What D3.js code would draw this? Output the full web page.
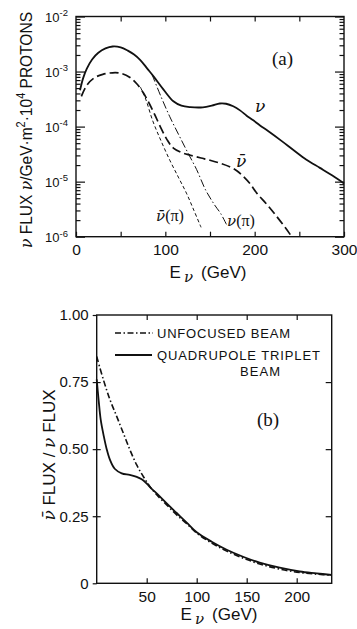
<!DOCTYPE html>
<html>
<head>
<meta charset="utf-8">
<script src="https://cdn.jsdelivr.net/npm/d3@7"></script>
<style>
  body { margin: 0; background: #fff; }
  svg { display: block; }
  .tick line { stroke: #111; stroke-width: 1.2; }
  .domain { display: none; }
  .frame { fill: none; stroke: #111; stroke-width: 1.4; }
  .curve { fill: none; stroke: #111; }
  .sans { font-family: "Liberation Sans", Arial, sans-serif; fill: #111; }
  .serif { font-family: "Liberation Serif", "DejaVu Serif", serif; fill: #111; }
  .greek { font-family: "DejaVu Serif", serif; font-style: italic; fill: #111; }
</style>
</head>
<body>
<div id="chart"></div>
<script>
"use strict";

// (a) flux per GeV, m^2, 10^4 protons
let nuE = [4.5, 8, 12, 18, 25, 33, 41, 50, 58, 65, 72, 80, 87, 98, 109, 118, 128, 142,
  152, 161, 168, 176, 184, 191, 198, 206, 215, 230, 243, 258, 273, 287, 300];
let nuFlux = [4.57e-4, 7.6e-4, 1.12e-3, 1.66e-3, 2.19e-3, 2.63e-3, 2.85e-3, 2.75e-3, 2.4e-3,
  2.04e-3, 1.62e-3, 1.12e-3, 8.1e-4, 4.7e-4, 2.88e-4, 2.4e-4, 2.26e-4, 2.24e-4, 2.4e-4,
  2.63e-4, 2.6e-4, 2.34e-4, 1.95e-4, 1.58e-4, 1.32e-4, 1.05e-4, 8.3e-5, 5.5e-5, 3.8e-5,
  2.5e-5, 1.78e-5, 1.29e-5, 9.3e-6];

let nubarE = [6, 12, 20, 30, 41, 50, 60, 68, 75, 82, 88, 95, 102, 109, 118, 128, 140, 150,
  162, 172, 180, 187, 195, 202, 214, 225, 234, 241.5];
let nubarFlux = [3.55e-4, 5.6e-4, 7.6e-4, 8.9e-4, 9.5e-4, 9.3e-4, 7.9e-4, 6.0e-4, 4.2e-4,
  2.63e-4, 1.66e-4, 9.5e-5, 5.75e-5, 4.07e-5, 3.39e-5, 3.02e-5, 2.69e-5, 2.45e-5, 2.14e-5,
  1.86e-5, 1.58e-5, 1.26e-5, 9.1e-6, 6.3e-6, 3.8e-6, 2.29e-6, 1.48e-6, 1.0e-6];

let nubarPiE = [72, 78, 86, 95, 105, 115, 124, 132, 140];
let nubarPiFlux = [5.25e-4, 3.16e-4, 1.26e-4, 5.6e-5, 2.45e-5, 1.17e-5, 6.0e-6, 3.0e-6, 1.48e-6];

let nuPiE = [85, 95, 105, 115, 125, 135, 145, 155, 162, 168.5];
let nuPiFlux = [8.9e-4, 3.55e-4, 1.51e-4, 7.1e-5, 3.39e-5, 1.66e-5, 7.1e-6, 3.8e-6, 2.63e-6, 1.66e-6];

let decades = [1e-6, 1e-5, 1e-4, 1e-3, 1e-2];
let decadeLabels = ['-6', '-5', '-4', '-3', '-2'];
let topXTicks = [0, 50, 100, 150, 200, 250, 300];
let topXLabels = [0, 100, 200, 300];

// (b) antineutrino / neutrino flux ratio
let unfocE = [0, 6.6, 13.3, 20, 26.6, 33.3, 40, 46.6, 53.3, 60, 70, 80, 90, 100, 115, 130,
  147, 163, 183, 203, 220, 235];
let unfocRatio = [0.845, 0.76, 0.684, 0.622, 0.56, 0.497, 0.441, 0.398, 0.36, 0.33, 0.292,
  0.255, 0.222, 0.187, 0.150, 0.120, 0.093, 0.072, 0.053, 0.040, 0.034, 0.030];

let quadE = [0, 2, 4, 7, 10, 13.3, 18, 25, 33, 40, 45, 50, 55, 60, 70, 80, 90, 100, 115, 130,
  147, 163, 183, 203, 220, 235];
let quadRatio = [0.76, 0.68, 0.61, 0.55, 0.50, 0.46, 0.427, 0.41, 0.404, 0.397, 0.388, 0.372,
  0.352, 0.335, 0.298, 0.262, 0.226, 0.19, 0.155, 0.125, 0.098, 0.077, 0.058, 0.044, 0.037, 0.031];

let ratioTicks = [0, 0.25, 0.5, 0.75, 1];
let botXTicks = [50, 100, 150, 200];

let width = 357;
let height = 629;

let svg = d3.select('#chart')
  .append('svg')
  .attr('width', width)
  .attr('height', height);

// ---------- panel (a) ----------
let x = d3.scaleLinear().domain([0, 300]).range([76, 344]);
let y = d3.scaleLog().domain([1e-6, 1e-2]).range([236.7, 16.5]);

let minors = [];
decades.slice(0, -1).forEach(d => {
  for (let k = 2; k <= 9; k++) minors.push(d * k);
});

svg.append('g')
  .attr('transform', 'translate(0,' + y(1e-6) + ')')
  .call(d3.axisBottom(x).tickValues(topXTicks).tickSize(-5).tickPadding(7)
    .tickFormat(d => topXLabels.includes(d) ? d : ''))
  .call(g => g.selectAll('text').attr('class', 'sans').style('font-size', '15.5px'));

svg.append('g')
  .attr('transform', 'translate(0,' + y(1e-2) + ')')
  .call(d3.axisTop(x).tickValues(topXTicks.slice(1, -1)).tickSize(-5).tickFormat(''));

svg.append('g')
  .attr('transform', 'translate(' + x(0) + ',0)')
  .call(d3.axisLeft(y).tickValues(decades).tickSize(-9).tickFormat(''))
  .call(g => g.selectAll('.tick').each(function(d, i) {
    let t = d3.select(this).append('text')
      .attr('class', 'sans')
      .attr('x', -8)
      .attr('dy', '0.35em')
      .attr('text-anchor', 'end')
      .style('font-size', '13px');
    t.append('tspan').text('10');
    t.append('tspan').attr('dy', '-0.55em').style('font-size', '9.5px').text(decadeLabels[i]);
  }));

svg.append('g')
  .attr('transform', 'translate(' + x(0) + ',0)')
  .call(d3.axisLeft(y).tickValues(minors).tickSize(-4.5).tickFormat(''));

svg.append('g')
  .attr('transform', 'translate(' + x(300) + ',0)')
  .call(d3.axisRight(y).tickValues(decades).tickSize(-9).tickFormat(''));

svg.append('g')
  .attr('transform', 'translate(' + x(300) + ',0)')
  .call(d3.axisRight(y).tickValues(minors).tickSize(-4.5).tickFormat(''));

svg.append('rect')
  .attr('class', 'frame')
  .attr('x', x(0))
  .attr('y', y(1e-2))
  .attr('width', x(300) - x(0))
  .attr('height', y(1e-6) - y(1e-2));

let lineA = d3.line()
  .x(d => x(d[0]))
  .y(d => y(d[1]))
  .curve(d3.curveCatmullRom.alpha(0.5));

svg.append('path').datum(d3.zip(nuE, nuFlux)).attr('class', 'curve')
  .attr('stroke-width', 1.8).attr('d', lineA);
svg.append('path').datum(d3.zip(nubarE, nubarFlux)).attr('class', 'curve')
  .attr('stroke-width', 1.7).attr('stroke-dasharray', '9,4').attr('d', lineA);
svg.append('path').datum(d3.zip(nubarPiE, nubarPiFlux)).attr('class', 'curve')
  .attr('stroke-width', 1).attr('stroke-dasharray', '3.5,2.5').attr('d', lineA);
svg.append('path').datum(d3.zip(nuPiE, nuPiFlux)).attr('class', 'curve')
  .attr('stroke-width', 1).attr('stroke-dasharray', '8,2.5,1.5,2.5').attr('d', lineA);

// curve labels
let nuLabel = (px, py, size, bar) => {
  let t = svg.append('text').attr('class', 'greek')
    .attr('x', px).attr('y', py)
    .style('font-size', size + 'px');
  t.text(bar ? '\u03BD\u0304' : '\u03BD');
  return t;
};
nuLabel(255, 112, 17, false);
nuLabel(236, 167, 17, true);
nuLabel(156, 221, 15, true).append('tspan').attr('class', 'serif').style('font-style', 'normal')
  .style('font-size', '16px').text('(\u03C0)');
nuLabel(227, 226, 15, false).append('tspan').attr('class', 'serif').style('font-style', 'normal')
  .style('font-size', '16px').text('(\u03C0)');

svg.append('text').attr('class', 'serif')
  .attr('x', 272).attr('y', 65)
  .style('font-size', '19px')
  .text('(a)');

// axis titles
let ylabA = svg.append('text').attr('class', 'sans')
  .attr('transform', 'translate(32,130) rotate(-90)')
  .attr('text-anchor', 'middle')
  .attr('textLength', 236)
  .attr('lengthAdjust', 'spacingAndGlyphs')
  .style('font-size', '17px');
ylabA.append('tspan').attr('class', 'greek').text('\u03BD');
ylabA.append('tspan').text(' FLUX  ');
ylabA.append('tspan').attr('class', 'greek').text('\u03BD');
ylabA.append('tspan').text('/GeV\u00B7m');
ylabA.append('tspan').attr('dy', -7).style('font-size', '12px').text('2');
ylabA.append('tspan').attr('dy', 7).text('\u00B710');
ylabA.append('tspan').attr('dy', -7).style('font-size', '12px').text('4');
ylabA.append('tspan').attr('dy', 7).text(' PROTONS');

let xlab = (cx, by) => {
  let t = svg.append('text').attr('class', 'sans')
    .attr('x', cx).attr('y', by)
    .attr('text-anchor', 'middle')
    .style('font-size', '17px');
  t.append('tspan').text('E');
  t.append('tspan').attr('class', 'greek').attr('dy', 4).attr('dx', 3)
    .style('font-size', '15px').text('\u03BD');
  t.append('tspan').attr('dy', -4).attr('dx', 8).text('(GeV)');
};
xlab(208, 278);

// ---------- panel (b) ----------
let x2 = d3.scaleLinear().domain([0, 235]).range([96.7, 331.7]);
let y2 = d3.scaleLinear().domain([0, 1]).range([583.3, 315]);

svg.append('g')
  .attr('transform', 'translate(0,' + y2(0) + ')')
  .call(d3.axisBottom(x2).tickValues(botXTicks).tickSize(-5).tickPadding(8))
  .call(g => g.selectAll('text').attr('class', 'sans').style('font-size', '15.5px'));

svg.append('g')
  .attr('transform', 'translate(0,' + y2(1) + ')')
  .call(d3.axisTop(x2).tickValues(botXTicks).tickSize(-5).tickFormat(''));

svg.append('g')
  .attr('transform', 'translate(' + x2(0) + ',0)')
  .call(d3.axisLeft(y2).tickValues(ratioTicks).tickSize(4).tickPadding(4)
    .tickFormat(d => d === 0 ? '0' : d3.format('.2f')(d)))
  .call(g => g.selectAll('text').attr('class', 'sans').style('font-size', '15px'));

svg.append('g')
  .attr('transform', 'translate(' + x2(0) + ',0)')
  .call(d3.axisLeft(y2).tickValues(ratioTicks.slice(1, -1)).tickSize(-4).tickFormat(''));

svg.append('g')
  .attr('transform', 'translate(' + x2(235) + ',0)')
  .call(d3.axisRight(y2).tickValues(ratioTicks.slice(1, -1)).tickSize(-6).tickFormat(''));

svg.append('rect')
  .attr('class', 'frame')
  .attr('x', x2(0))
  .attr('y', y2(1))
  .attr('width', x2(235) - x2(0))
  .attr('height', y2(0) - y2(1));

let lineB = d3.line()
  .x(d => x2(d[0]))
  .y(d => y2(d[1]))
  .curve(d3.curveCatmullRom.alpha(0.5));

svg.append('path').datum(d3.zip(unfocE, unfocRatio)).attr('class', 'curve')
  .attr('stroke-width', 1.6).attr('stroke-dasharray', '6,2.5,1.5,2.5').attr('d', lineB);
svg.append('path').datum(d3.zip(quadE, quadRatio)).attr('class', 'curve')
  .attr('stroke-width', 1.8).attr('d', lineB);

// legend
let legend = svg.append('g').attr('class', 'legend');
legend.append('line').attr('class', 'curve')
  .attr('x1', 115).attr('x2', 153).attr('y1', 333).attr('y2', 333)
  .attr('stroke-width', 1.6).attr('stroke-dasharray', '6,2.5,1.5,2.5');
legend.append('line').attr('class', 'curve')
  .attr('x1', 115).attr('x2', 152).attr('y1', 355).attr('y2', 355)
  .attr('stroke-width', 1.8);
legend.append('text').attr('class', 'sans')
  .attr('x', 157).attr('y', 338)
  .attr('textLength', 133).attr('lengthAdjust', 'spacing')
  .style('font-size', '13px').text('UNFOCUSED BEAM');
legend.append('text').attr('class', 'sans')
  .attr('x', 157).attr('y', 360)
  .attr('textLength', 163).attr('lengthAdjust', 'spacing')
  .style('font-size', '13px').text('QUADRUPOLE TRIPLET');
legend.append('text').attr('class', 'sans')
  .attr('x', 240).attr('y', 376)
  .attr('textLength', 40).attr('lengthAdjust', 'spacing')
  .style('font-size', '13px').text('BEAM');

svg.append('text').attr('class', 'serif')
  .attr('x', 257).attr('y', 426)
  .style('font-size', '19px')
  .text('(b)');

let ylabB = svg.append('text').attr('class', 'sans')
  .attr('transform', 'translate(55,455) rotate(-90)')
  .attr('text-anchor', 'middle')
  .style('font-size', '17px');
ylabB.append('tspan').attr('class', 'greek').text('\u03BD\u0304');
ylabB.append('tspan').text(' FLUX / ');
ylabB.append('tspan').attr('class', 'greek').text('\u03BD');
ylabB.append('tspan').text(' FLUX');

xlab(219, 620);
</script>
</body>
</html>
